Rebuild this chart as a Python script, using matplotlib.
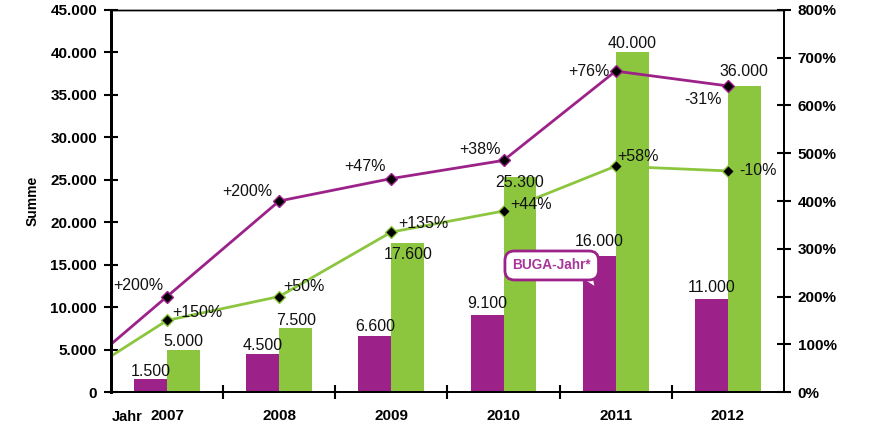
from matplotlib import pyplot as plt
from matplotlib.ticker import FuncFormatter, FixedLocator
import numpy as np

# data
years = ["2007", "2008", "2009", "2010", "2011", "2012"]
purple_bars = [1500, 4500, 6600, 9100, 16000, 11000]
green_bars = [5000, 7500, 17600, 25300, 40000, 36000]

# line values on the right axis (first value is the year before 2007, cut off by the axis)
purple_line = [0, 200, 400, 447, 485, 672, 641]
green_line = [0, 150, 200, 335, 379, 473, 463]
purple_labels = ["+200%", "+200%", "+47%", "+38%", "+76%", "-31%"]
green_labels = ["+150%", "+50%", "+135%", "+44%", "+58%", "-10%"]

PURPLE = "#9C2289"
GREEN = "#8CC63F"
plt.rcParams['font.family'] = ['Liberation Sans', 'DejaVu Sans']

fig = plt.figure(figsize=(8.71, 4.25), dpi=100)
ax = fig.add_axes([0.1274, 0.0776, 0.7726, 0.8989])
ax2 = ax.twinx()

x = np.arange(len(years))
w = 0.294
b1 = ax.bar(x - w/2, purple_bars, w, color=PURPLE)
b2 = ax.bar(x + w/2, green_bars, w, color=GREEN)

def de_num(v):
    return f"{int(v):,}".replace(",", ".")

# vertical offsets (points) of the value labels, some sit inside the bar top
purple_dy = [5.8, 5.8, 6.5, 8, 10.8, 8]
green_dy = [5.8, 5.8, -8.6, -3.6, 6.5, 10.8]
for bars, vals, dys in [(b1, purple_bars, purple_dy), (b2, green_bars, green_dy)]:
    for rect, v, dy in zip(bars, vals, dys):
        ax.annotate(de_num(v), (rect.get_x() + rect.get_width()/2, v),
                    xytext=(0, dy), textcoords="offset points",
                    ha="center", va="center", fontsize=11.5, color="#111111")

ax.set_xlim(-0.5, 5.5)
ax.set_ylim(0, 45000)
ax.yaxis.set_major_locator(FixedLocator(np.arange(0, 45001, 5000)))
ax.yaxis.set_major_formatter(FuncFormatter(lambda v, p: de_num(v)))
ax.set_ylabel("Summe", fontsize=10, fontweight="bold", labelpad=8)

# ticks between the groups, labels at the group centres
ax.set_xticks(np.arange(0.5, 5.5, 1))
ax.set_xticklabels([])
ax.set_xticks(x, minor=True)
ax.set_xticklabels(years, minor=True, fontsize=11, fontweight="bold")
ax.tick_params(axis="x", which="minor", length=0, pad=12)
ax.tick_params(axis="x", which="major", direction="inout", length=10, width=1.5)
ax.tick_params(axis="y", direction="inout", length=10, width=1.5, pad=5)
for lab in ax.get_yticklabels():
    lab.set_fontweight("bold")
    lab.set_fontsize(11)
ax.annotate("Jahr", (0, 0), xycoords="axes fraction", xytext=(0.5, -18),
            textcoords="offset points", ha="left", va="center",
            fontsize=10.5, fontweight="bold")

# percentage lines
lx = np.arange(-1, len(years))
ax2.plot(lx, purple_line, color=PURPLE, lw=2, marker="D", ms=6,
         mfc="black", mec=PURPLE, mew=1)
ax2.plot(lx, green_line, color=GREEN, lw=2, marker="D", ms=6,
         mfc="black", mec=GREEN, mew=1)
ax2.set_ylim(0, 800)
ax2.yaxis.set_major_locator(FixedLocator(np.arange(0, 801, 100)))
ax2.yaxis.set_major_formatter(FuncFormatter(lambda v, p: f"{int(v)}%"))
ax2.tick_params(axis="y", direction="inout", length=10, width=1.5, pad=5)
for lab in ax2.get_yticklabels():
    lab.set_fontweight("bold")
    lab.set_fontsize(11)

purple_off = [(-21, 8), (-23, 7), (-19, 9), (-17, 8), (-19, 0), (-18, -10)]
green_off = [(22, 6), (18, 7), (23, 6), (20, 5), (16, 7), (22, 0)]
for i in range(len(years)):
    ax2.annotate(purple_labels[i], (x[i], purple_line[i + 1]), xytext=purple_off[i],
                 textcoords="offset points", ha="center", va="center",
                 fontsize=11.5, color="#111111")
    ax2.annotate(green_labels[i], (x[i], green_line[i + 1]), xytext=green_off[i],
                 textcoords="offset points", ha="center", va="center",
                 fontsize=11.5, color="#111111")

# callout for the BUGA year: tail first, box drawn over it
ax2.annotate("", xy=(3.84, 212), xytext=(3.73, 250),
             arrowprops=dict(arrowstyle="wedge,tail_width=1.0,shrink_factor=0.5",
                             fc="white", ec=PURPLE, lw=1.8), zorder=4)
ax2.text(3.43, 265, "BUGA-Jahr*", ha="center", va="center", fontsize=9.8,
         fontweight="bold", color="#A8359A", zorder=5,
         bbox=dict(boxstyle="round,pad=0.55,rounding_size=0.7", fc="white",
                   ec=PURPLE, lw=2))

for a in (ax, ax2):
    a.spines["left"].set_linewidth(2)
    a.spines["bottom"].set_linewidth(1.3)
    a.spines["top"].set_linewidth(1)
    a.spines["right"].set_linewidth(1.3)

plt.savefig("out.png", dpi=100)
